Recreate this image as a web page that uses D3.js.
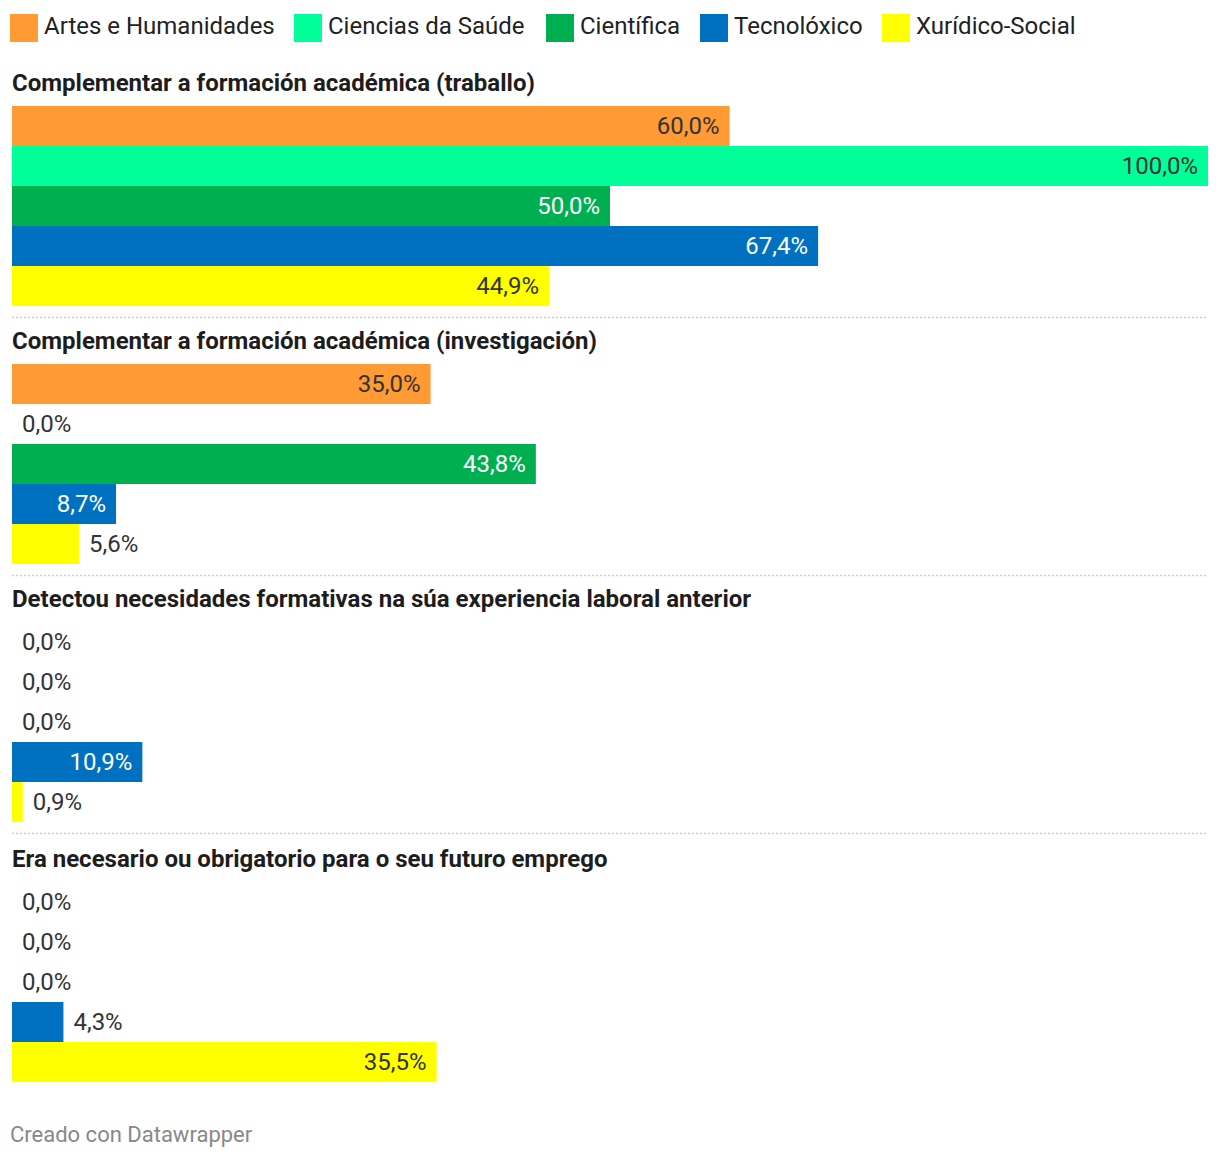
<!DOCTYPE html>
<html><head><meta charset="utf-8">
<script src="https://cdn.jsdelivr.net/npm/d3@7"></script>
<style>body{margin:0;background:#fff;font-family:Roboto,sans-serif}</style>
</head><body>
<svg id="c" width="1220" height="1158"></svg>
<script>
const series = ["Artes e Humanidades","Ciencias da Saúde","Científica","Tecnolóxico","Xurídico-Social"];
const colors = ["#ff9a35","#00ff99","#00b050","#0070c0","#ffff00"];
const labelColors = ["#333","#333","#fff","#fff","#333"];
const groups = [
  "Complementar a formación académica (traballo)",
  "Complementar a formación académica (investigación)",
  "Detectou necesidades formativas na súa experiencia laboral anterior",
  "Era necesario ou obrigatorio para o seu futuro emprego"
];
const vArtes = [60.0, 35.0, 0.0, 0.0];
const vSaude = [100.0, 0.0, 0.0, 0.0];
const vCient = [50.0, 43.8, 0.0, 0.0];
const vTecno = [67.4, 8.7, 10.9, 4.3];
const vXuri = [44.9, 5.6, 0.9, 35.5];
const valuesBySeries = [vArtes, vSaude, vCient, vTecno, vXuri];
const legendX = [10, 294, 546, 700, 882];

const svg = d3.select("#c");
const x = d3.scaleLinear().domain([0,100]).range([12,1208]);
const fmt = v => v.toFixed(1).replace(".", ",") + "%";

// legend
const lg = svg.append("g");
series.forEach((s,i)=>{
  lg.append("rect").attr("x",legendX[i]).attr("y",14).attr("width",28).attr("height",28).attr("fill",colors[i]);
  lg.append("text").attr("x",legendX[i]+34).attr("y",34).attr("font-size",24).attr("fill","#222").text(s);
});

const barStart = [106, 364, 622, 882];
const bandInner = d3.scaleBand().domain(series).range([0,200]).padding(0);
groups.forEach((g,gi)=>{
  const by = barStart[gi];
  svg.append("text").attr("x",12).attr("y",by-15).attr("font-size",24).attr("font-weight","bold").attr("fill","#1d1d1d").text(g);
  series.forEach((s,si)=>{
    const v = valuesBySeries[si][gi];
    const y0 = by + bandInner(s);
    const w = x(v) - x(0);
    svg.append("rect").attr("x",x(0)).attr("y",y0).attr("width",w).attr("height",bandInner.bandwidth()).attr("fill",colors[si]);
    const t = svg.append("text")
      .attr("y", y0+28)
      .attr("font-size",24)
      .text(fmt(v));
    const tw = t.node().getComputedTextLength();
    const inside = w > tw + 20;
    t.attr("x", inside ? x(v)-10 : x(v)+10)
      .attr("text-anchor", inside ? "end" : "start")
      .attr("fill", inside ? labelColors[si] : "#333");
  });
  if (gi < groups.length-1) {
    svg.append("line").attr("x1",12).attr("x2",1208).attr("y1",by+211.5).attr("y2",by+211.5)
      .attr("stroke","#ccc").attr("stroke-width",1.5).attr("stroke-dasharray","2,2");
  }
});
svg.append("text").attr("x",10).attr("y",1142).attr("font-size",22).attr("fill","#888").text("Creado con Datawrapper");
</script>
</body></html>
